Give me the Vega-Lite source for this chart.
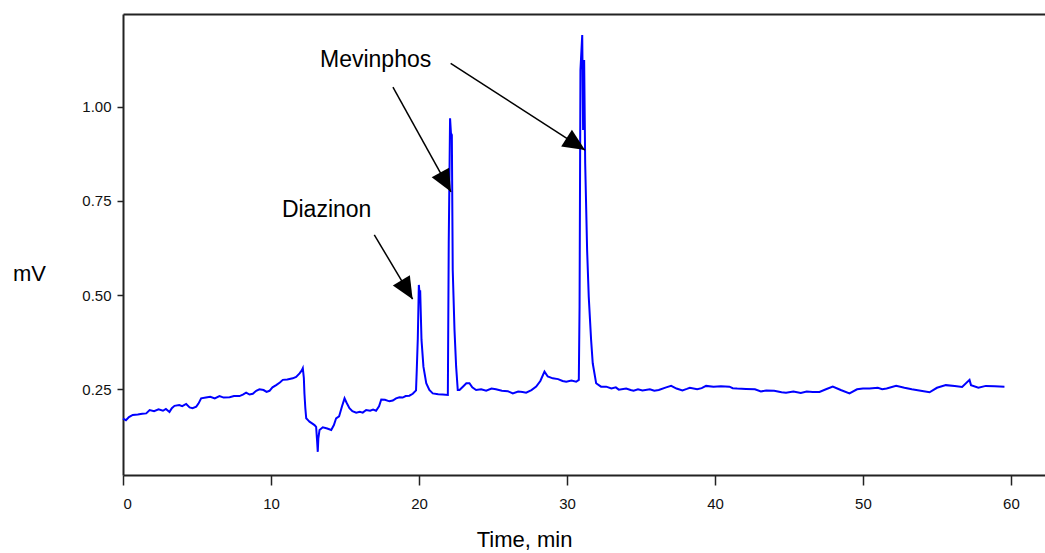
{
  "$schema": "https://vega.github.io/schema/vega-lite/v6.json",
  "width": 922,
  "height": 461,
  "autosize": {"type": "none"},
  "padding": {"left": 123, "top": 14, "right": 0, "bottom": 78},
  "background": "white",
  "config": {
    "view": {"stroke": null}
  },
  "resolve": {"axis": {"x": "independent", "y": "independent"}},
  "datasets": {
    "trace": [
      {"t": 0.0, "mv": 0.172}, {"t": 0.2, "mv": 0.168}, {"t": 0.4, "mv": 0.176}, {"t": 0.66, "mv": 0.182},
      {"t": 1.0, "mv": 0.183}, {"t": 1.3, "mv": 0.185}, {"t": 1.57, "mv": 0.186}, {"t": 1.8, "mv": 0.195},
      {"t": 2.1, "mv": 0.192}, {"t": 2.4, "mv": 0.197}, {"t": 2.7, "mv": 0.193}, {"t": 2.9, "mv": 0.198},
      {"t": 3.14, "mv": 0.19}, {"t": 3.3, "mv": 0.2}, {"t": 3.48, "mv": 0.206}, {"t": 3.8, "mv": 0.208},
      {"t": 4.0, "mv": 0.205}, {"t": 4.27, "mv": 0.211}, {"t": 4.5, "mv": 0.202}, {"t": 4.7, "mv": 0.2},
      {"t": 4.95, "mv": 0.204}, {"t": 5.1, "mv": 0.212}, {"t": 5.28, "mv": 0.226}, {"t": 5.6, "mv": 0.228},
      {"t": 5.9, "mv": 0.23}, {"t": 6.2, "mv": 0.226}, {"t": 6.52, "mv": 0.232}, {"t": 6.8, "mv": 0.228},
      {"t": 7.2, "mv": 0.229}, {"t": 7.5, "mv": 0.232}, {"t": 7.87, "mv": 0.232}, {"t": 8.1, "mv": 0.236},
      {"t": 8.32, "mv": 0.241}, {"t": 8.55, "mv": 0.236}, {"t": 8.77, "mv": 0.238}, {"t": 9.0, "mv": 0.246},
      {"t": 9.22, "mv": 0.25}, {"t": 9.5, "mv": 0.248}, {"t": 9.7, "mv": 0.243}, {"t": 9.9, "mv": 0.246},
      {"t": 10.1, "mv": 0.255}, {"t": 10.35, "mv": 0.261}, {"t": 10.6, "mv": 0.268}, {"t": 10.8, "mv": 0.275},
      {"t": 11.1, "mv": 0.276}, {"t": 11.47, "mv": 0.279}, {"t": 11.7, "mv": 0.283}, {"t": 11.93, "mv": 0.292},
      {"t": 12.08, "mv": 0.3}, {"t": 12.15, "mv": 0.306}, {"t": 12.22, "mv": 0.28}, {"t": 12.26, "mv": 0.239},
      {"t": 12.32, "mv": 0.2}, {"t": 12.38, "mv": 0.173}, {"t": 12.5, "mv": 0.168}, {"t": 12.6, "mv": 0.164},
      {"t": 12.75, "mv": 0.16}, {"t": 12.94, "mv": 0.155}, {"t": 13.05, "mv": 0.15}, {"t": 13.12, "mv": 0.11},
      {"t": 13.16, "mv": 0.084}, {"t": 13.2, "mv": 0.12}, {"t": 13.28, "mv": 0.142}, {"t": 13.5, "mv": 0.149},
      {"t": 13.8, "mv": 0.146}, {"t": 14.07, "mv": 0.142}, {"t": 14.25, "mv": 0.155}, {"t": 14.4, "mv": 0.173},
      {"t": 14.6, "mv": 0.178}, {"t": 14.8, "mv": 0.205}, {"t": 14.97, "mv": 0.226}, {"t": 15.1, "mv": 0.215},
      {"t": 15.3, "mv": 0.2}, {"t": 15.5, "mv": 0.192}, {"t": 15.76, "mv": 0.188}, {"t": 16.0, "mv": 0.19},
      {"t": 16.2, "mv": 0.188}, {"t": 16.43, "mv": 0.195}, {"t": 16.7, "mv": 0.193}, {"t": 16.9, "mv": 0.196},
      {"t": 17.1, "mv": 0.193}, {"t": 17.3, "mv": 0.205}, {"t": 17.45, "mv": 0.223}, {"t": 17.7, "mv": 0.222},
      {"t": 18.0, "mv": 0.218}, {"t": 18.23, "mv": 0.22}, {"t": 18.45, "mv": 0.226}, {"t": 18.68, "mv": 0.229},
      {"t": 18.9, "mv": 0.228}, {"t": 19.1, "mv": 0.232}, {"t": 19.35, "mv": 0.233}, {"t": 19.58, "mv": 0.238},
      {"t": 19.8, "mv": 0.247}, {"t": 19.85, "mv": 0.301}, {"t": 19.92, "mv": 0.385}, {"t": 19.99, "mv": 0.527},
      {"t": 20.05, "mv": 0.5}, {"t": 20.08, "mv": 0.513}, {"t": 20.17, "mv": 0.381}, {"t": 20.3, "mv": 0.31},
      {"t": 20.49, "mv": 0.266}, {"t": 20.7, "mv": 0.248}, {"t": 20.93, "mv": 0.239}, {"t": 21.3, "mv": 0.237},
      {"t": 21.6, "mv": 0.236}, {"t": 21.95, "mv": 0.235}, {"t": 22.01, "mv": 0.637}, {"t": 22.1, "mv": 0.969},
      {"t": 22.16, "mv": 0.93}, {"t": 22.22, "mv": 0.925}, {"t": 22.28, "mv": 0.567}, {"t": 22.4, "mv": 0.407},
      {"t": 22.51, "mv": 0.31}, {"t": 22.62, "mv": 0.248}, {"t": 22.74, "mv": 0.248}, {"t": 23.0, "mv": 0.258},
      {"t": 23.2, "mv": 0.266}, {"t": 23.41, "mv": 0.266}, {"t": 23.6, "mv": 0.255}, {"t": 23.86, "mv": 0.248},
      {"t": 24.2, "mv": 0.25}, {"t": 24.54, "mv": 0.246}, {"t": 24.9, "mv": 0.252}, {"t": 25.2, "mv": 0.25},
      {"t": 25.6, "mv": 0.246}, {"t": 26.0, "mv": 0.245}, {"t": 26.34, "mv": 0.239}, {"t": 26.7, "mv": 0.244},
      {"t": 27.0, "mv": 0.243}, {"t": 27.24, "mv": 0.241}, {"t": 27.6, "mv": 0.248}, {"t": 27.92, "mv": 0.257},
      {"t": 28.2, "mv": 0.272}, {"t": 28.48, "mv": 0.297}, {"t": 28.7, "mv": 0.284}, {"t": 29.04, "mv": 0.279},
      {"t": 29.4, "mv": 0.277}, {"t": 29.7, "mv": 0.272}, {"t": 29.95, "mv": 0.27}, {"t": 30.3, "mv": 0.273},
      {"t": 30.62, "mv": 0.27}, {"t": 30.8, "mv": 0.275}, {"t": 30.85, "mv": 0.469}, {"t": 30.91, "mv": 1.097},
      {"t": 31.03, "mv": 1.19}, {"t": 31.09, "mv": 0.938}, {"t": 31.16, "mv": 1.124}, {"t": 31.23, "mv": 0.85},
      {"t": 31.36, "mv": 0.62}, {"t": 31.47, "mv": 0.496}, {"t": 31.63, "mv": 0.381}, {"t": 31.74, "mv": 0.319},
      {"t": 31.97, "mv": 0.266}, {"t": 32.3, "mv": 0.257}, {"t": 32.65, "mv": 0.257}, {"t": 33.0, "mv": 0.252},
      {"t": 33.3, "mv": 0.255}, {"t": 33.5, "mv": 0.249}, {"t": 34.0, "mv": 0.252}, {"t": 34.3, "mv": 0.248},
      {"t": 34.5, "mv": 0.246}, {"t": 34.8, "mv": 0.25}, {"t": 35.1, "mv": 0.247},
      {"t": 35.6, "mv": 0.25}, {"t": 35.9, "mv": 0.246}, {"t": 36.2, "mv": 0.248}, {"t": 36.7, "mv": 0.255}, {"t": 37.04, "mv": 0.259},
      {"t": 37.4, "mv": 0.252}, {"t": 37.8, "mv": 0.247}, {"t": 38.1, "mv": 0.251}, {"t": 38.3, "mv": 0.254}, {"t": 38.8, "mv": 0.25},
      {"t": 39.1, "mv": 0.253}, {"t": 39.4, "mv": 0.259}, {"t": 39.9, "mv": 0.257}, {"t": 40.4, "mv": 0.258}, {"t": 40.98, "mv": 0.257},
      {"t": 41.2, "mv": 0.253}, {"t": 41.5, "mv": 0.252}, {"t": 42.1, "mv": 0.251}, {"t": 42.7, "mv": 0.25}, {"t": 43.1, "mv": 0.244},
      {"t": 43.46, "mv": 0.247}, {"t": 44.0, "mv": 0.246}, {"t": 44.5, "mv": 0.242}, {"t": 44.8, "mv": 0.241},
      {"t": 45.3, "mv": 0.244}, {"t": 45.8, "mv": 0.24}, {"t": 46.2, "mv": 0.244}, {"t": 46.6, "mv": 0.243},
      {"t": 47.06, "mv": 0.243}, {"t": 47.5, "mv": 0.25}, {"t": 47.96, "mv": 0.257}, {"t": 48.5, "mv": 0.248},
      {"t": 49.09, "mv": 0.239}, {"t": 49.6, "mv": 0.25}, {"t": 50.0, "mv": 0.252}, {"t": 50.44, "mv": 0.252},
      {"t": 51.0, "mv": 0.254}, {"t": 51.3, "mv": 0.25}, {"t": 51.6, "mv": 0.252}, {"t": 52.24, "mv": 0.259}, {"t": 52.8, "mv": 0.254},
      {"t": 53.3, "mv": 0.25}, {"t": 53.8, "mv": 0.247}, {"t": 54.5, "mv": 0.242}, {"t": 55.0, "mv": 0.254},
      {"t": 55.6, "mv": 0.261}, {"t": 56.2, "mv": 0.259}, {"t": 56.7, "mv": 0.256}, {"t": 57.2, "mv": 0.275},
      {"t": 57.3, "mv": 0.261}, {"t": 57.8, "mv": 0.254}, {"t": 58.3, "mv": 0.259}, {"t": 58.9, "mv": 0.258},
      {"t": 59.56, "mv": 0.257}
    ],
    "arrows": [
      {"id": "A1", "x0": 18.24, "y0": 1.052, "x1": 22.16, "y1": 0.774},
      {"id": "A2", "x0": 22.14, "y0": 1.115, "x1": 31.22, "y1": 0.885},
      {"id": "A3", "x0": 16.98, "y0": 0.66, "x1": 19.57, "y1": 0.489}
    ],
    "labels": [
      {"label": "Mevinphos", "x": 17.07, "y": 1.1046},
      {"label": "Diazinon", "x": 13.76, "y": 0.708}
    ]
  },
  "layer": [
    {
      "data": {"name": "trace"},
      "mark": {"type": "line", "color": "#0000ff", "strokeWidth": 2},
      "encoding": {
        "x": {
          "field": "t", "type": "quantitative",
          "scale": {"domain": [0, 62.3], "nice": false, "zero": false},
          "axis": {
            "orient": "bottom",
            "grid": false,
            "values": [0, 10, 20, 30, 40, 50, 60],
            "format": "d",
            "domainColor": "#222222",
            "domainWidth": 2,
            "tickColor": "#222222",
            "tickWidth": 1.5,
            "tickSize": 10,
            "labelPadding": 11,
            "labelFont": "Liberation Sans",
            "labelFontSize": 15,
            "labelColor": "#111111",
            "title": "Time, min",
            "titleFont": "Liberation Sans",
            "titleFontSize": 22,
            "titleFontWeight": "normal",
            "titleColor": "#000000",
            "titleX": 401,
            "titleY": 71,
            "titleAlign": "center",
            "titleBaseline": "alphabetic"
          }
        },
        "y": {
          "field": "mv", "type": "quantitative",
          "scale": {"domain": [0.0225, 1.246], "nice": false, "zero": false},
          "axis": {
            "orient": "left",
            "grid": false,
            "values": [0.25, 0.5, 0.75, 1.0],
            "format": ".2f",
            "domainColor": "#222222",
            "domainWidth": 2,
            "tickColor": "#222222",
            "tickWidth": 1.5,
            "tickSize": 6,
            "labelPadding": 6,
            "labelFont": "Liberation Sans",
            "labelFontSize": 15,
            "labelColor": "#111111",
            "title": "mV",
            "titleFont": "Liberation Sans",
            "titleFontSize": 22,
            "titleFontWeight": "normal",
            "titleColor": "#000000",
            "titleAngle": 0,
            "titleX": -94,
            "titleY": 266,
            "titleAlign": "center",
            "titleBaseline": "alphabetic"
          }
        }
      }
    },
    {
      "data": {"name": "arrows"},
      "mark": {"type": "rule", "color": "#000000", "strokeWidth": 1.5},
      "encoding": {
        "x": {"field": "x0", "type": "quantitative", "scale": {"domain": [0, 62.3], "nice": false, "zero": false}, "axis": null},
        "y": {"field": "y0", "type": "quantitative", "scale": {"domain": [0.0225, 1.246], "nice": false, "zero": false}, "axis": null},
        "x2": {"field": "x1"},
        "y2": {"field": "y1"}
      }
    },
    {
      "data": {"name": "arrows"},
      "transform": [{"filter": "datum.id === 'A1'"}],
      "mark": {"type": "point", "shape": "M0,0L-0.45,1L0.45,1Z", "size": 1936, "filled": true, "color": "#000000", "opacity": 1, "angle": 151.3},
      "encoding": {
        "x": {"field": "x1", "type": "quantitative", "axis": null},
        "y": {"field": "y1", "type": "quantitative", "axis": null}
      }
    },
    {
      "data": {"name": "arrows"},
      "transform": [{"filter": "datum.id === 'A2'"}],
      "mark": {"type": "point", "shape": "M0,0L-0.45,1L0.45,1Z", "size": 1936, "filled": true, "color": "#000000", "opacity": 1, "angle": 122.85},
      "encoding": {
        "x": {"field": "x1", "type": "quantitative", "axis": null},
        "y": {"field": "y1", "type": "quantitative", "axis": null}
      }
    },
    {
      "data": {"name": "arrows"},
      "transform": [{"filter": "datum.id === 'A3'"}],
      "mark": {"type": "point", "shape": "M0,0L-0.45,1L0.45,1Z", "size": 1936, "filled": true, "color": "#000000", "opacity": 1, "angle": 149.15},
      "encoding": {
        "x": {"field": "x1", "type": "quantitative", "axis": null},
        "y": {"field": "y1", "type": "quantitative", "axis": null}
      }
    },
    {
      "data": {"name": "labels"},
      "mark": {"type": "text", "font": "Liberation Sans", "fontSize": 23, "align": "center", "baseline": "alphabetic", "color": "#000000"},
      "encoding": {
        "x": {"field": "x", "type": "quantitative", "axis": {"orient": "top", "labels": false, "ticks": false, "title": null, "grid": false, "domainColor": "#222222", "domainWidth": 2}},
        "y": {"field": "y", "type": "quantitative", "axis": null},
        "text": {"field": "label"}
      }
    }
  ]
}
